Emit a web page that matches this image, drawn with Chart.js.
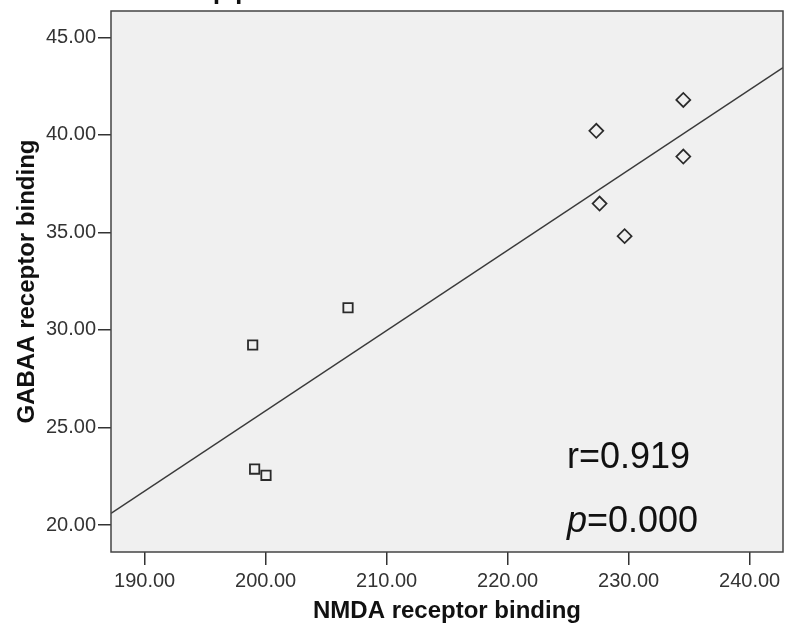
<!DOCTYPE html>
<html>
<head>
<meta charset="utf-8">
<script src="https://cdn.jsdelivr.net/npm/chart.js@4"></script>
<style>
html,body{margin:0;padding:0;background:#fff;}
#wrap{width:794px;height:625px;position:relative;}
</style>
</head>
<body>
<div id="wrap"><canvas id="c" width="794" height="625"></canvas></div>
<script>
// Group 1 (squares)
const squareX = [206.81, 198.93, 199.09, 200.03];
const squareY = [31.14, 29.23, 22.87, 22.55];
// Group 2 (diamonds)
const diamondX = [227.33, 234.52, 234.52, 227.60, 229.67];
const diamondY = [40.21, 41.79, 38.89, 36.48, 34.81];
// Fit line end points
const fitX = [187.22, 242.76];
const fitY = [20.60, 43.45];
// Axes
const xTicks = [190, 200, 210, 220, 230, 240];
const yTicks = [20, 25, 30, 35, 40, 45];
const xRange = [187.22, 242.76];
const yRange = [18.62, 46.35];
const xTitle = 'NMDA receptor binding';
const yTitle = 'GABAA receptor binding';
const rText = 'r=0.919';
const pLabel = 'p';
const pValue = '=0.000';
const topText = 'pp';

const FONT = "'Liberation Sans', Arial, sans-serif";
const toPts = (xs, ys) => xs.map((x, i) => ({x: x, y: ys[i]}));

const boxPlugin = {
  id: 'box',
  beforeDraw(chart) {
    const {ctx, chartArea: a} = chart;
    ctx.save();
    ctx.fillStyle = '#f0f0f0';
    ctx.fillRect(a.left, a.top, a.right - a.left, a.bottom - a.top);
    ctx.restore();
  },
  afterDraw(chart) {
    const {ctx, chartArea: a, scales} = chart;
    ctx.save();
    ctx.strokeStyle = '#444';
    ctx.lineWidth = 1.5;
    ctx.strokeRect(a.left, a.top, a.right - a.left, a.bottom - a.top);
    // annotations
    const tx = scales.x.getPixelForValue(224.9);
    ctx.fillStyle = '#111';
    ctx.textBaseline = 'alphabetic';
    ctx.textAlign = 'left';
    ctx.font = '36px ' + FONT;
    ctx.fillText(rText, tx, scales.y.getPixelForValue(22.95));
    const py = scales.y.getPixelForValue(19.62);
    ctx.font = 'italic 36px ' + FONT;
    ctx.fillText(pLabel, tx, py);
    const pw = ctx.measureText(pLabel).width;
    ctx.font = '36px ' + FONT;
    ctx.fillText(pValue, tx + pw, py);
    // cropped title remnant at top
    ctx.font = '40px ' + FONT;
    ctx.fillStyle = '#111';
    ctx.fillText(topText, 212, -4);
    ctx.restore();
  }
};

new Chart(document.getElementById('c'), {
  type: 'scatter',
  data: {
    datasets: [
      {
        type: 'line',
        data: toPts(fitX, fitY),
        borderColor: '#3a3a3a',
        borderWidth: 1.4,
        pointRadius: 0,
        fill: false,
        order: 2
      },
      {
        data: toPts(squareX, squareY),
        pointStyle: 'rect',
        pointRadius: 6.6,
        borderColor: '#2a2a2a',
        backgroundColor: 'rgba(0,0,0,0)',
        pointBorderWidth: 1.8,
        order: 1
      },
      {
        data: toPts(diamondX, diamondY),
        pointStyle: 'rectRot',
        pointRadius: 7,
        borderColor: '#2a2a2a',
        backgroundColor: 'rgba(0,0,0,0)',
        pointBorderWidth: 1.7,
        order: 1
      }
    ]
  },
  options: {
    responsive: false,
    animation: false,
    devicePixelRatio: 1,
    layout: {padding: {top: 11, right: 11, left: 0, bottom: 0}},
    plugins: {legend: {display: false}, tooltip: {enabled: false}},
    scales: {
      x: {
        type: 'linear',
        min: xRange[0], max: xRange[1],
        afterBuildTicks: s => { s.ticks = xTicks.map(v => ({value: v})); },
        afterFit: s => { s.height = 73; s.paddingLeft = 0; s.paddingRight = 0; },
        grid: {drawOnChartArea: false, drawTicks: true, tickLength: 13, color: '#333', lineWidth: 1.5},
        border: {display: false},
        ticks: {
          color: '#333', font: {family: FONT, size: 20}, padding: 4,
          maxRotation: 0, autoSkip: false,
          callback: v => Number(v).toFixed(2)
        },
        title: {display: true, text: xTitle, color: '#111', font: {family: FONT, size: 24, weight: 'bold', lineHeight: 1}, padding: {top: 0, bottom: 2}}
      },
      y: {
        type: 'linear',
        min: yRange[0], max: yRange[1],
        afterBuildTicks: s => { s.ticks = yTicks.map(v => ({value: v})); },
        afterFit: s => { s.width = 111; s.paddingTop = 0; s.paddingBottom = 0; },
        grid: {drawOnChartArea: false, drawTicks: true, tickLength: 13, color: '#333', lineWidth: 1.5},
        border: {display: false},
        ticks: {
          color: '#333', font: {family: FONT, size: 20}, padding: 2,
          autoSkip: false,
          callback: v => Number(v).toFixed(2)
        },
        title: {display: true, text: yTitle, color: '#111', font: {family: FONT, size: 24, weight: 'bold', lineHeight: 1}, padding: {top: 15, bottom: 0}}
      }
    }
  },
  plugins: [boxPlugin]
});
</script>
</body>
</html>
